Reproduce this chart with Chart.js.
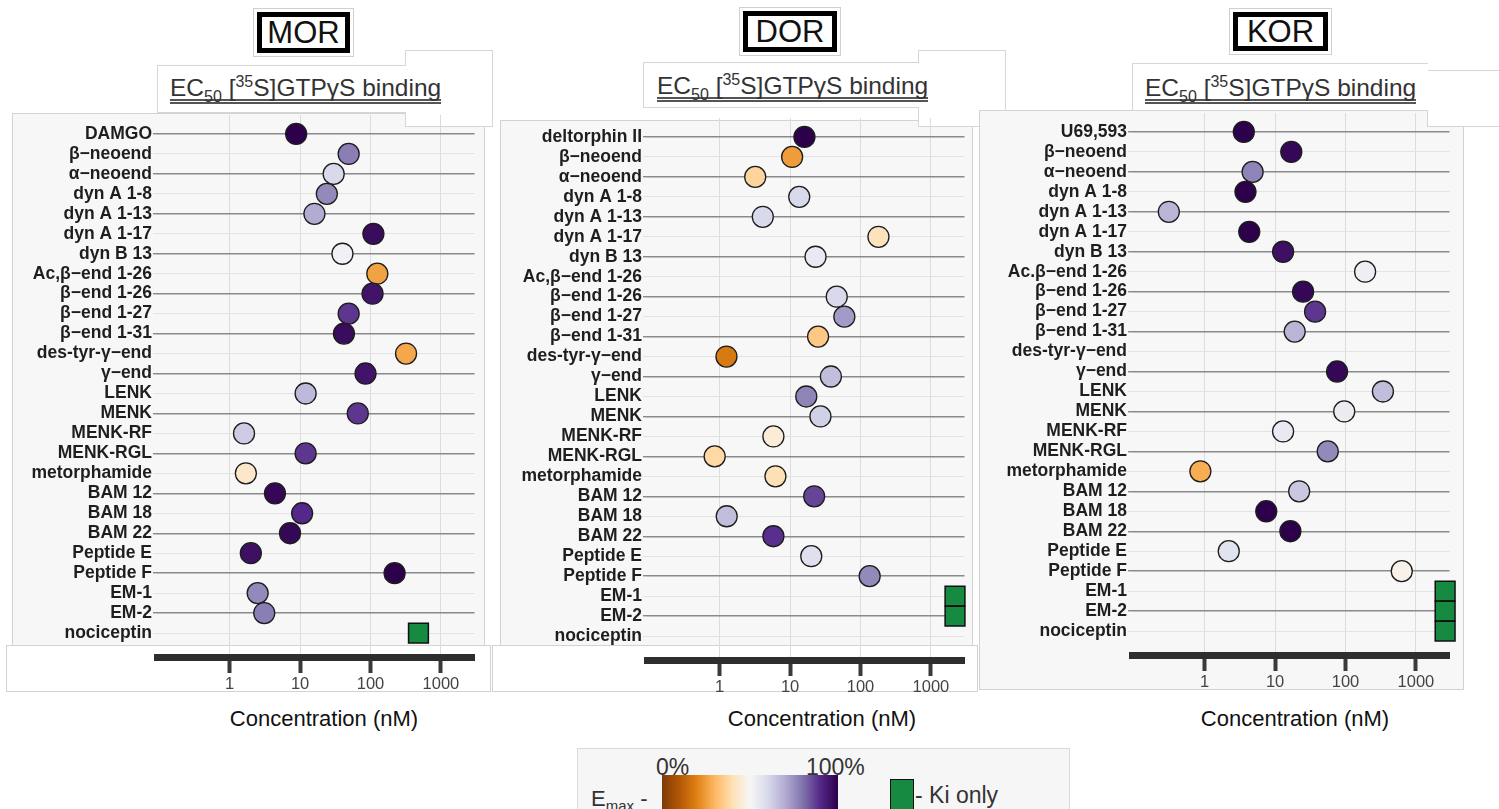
<!DOCTYPE html>
<html>
<head>
<meta charset="utf-8">
<script src="https://cdn.jsdelivr.net/npm/chart.js@4.4.1/dist/chart.umd.min.js"></script>
<style>
  body { margin: 0; width: 1499px; height: 809px; position: relative; overflow: hidden; background: #fff;
         font-family: "Liberation Sans", Arial, sans-serif; }
  .abs { position: absolute; }
  .panel { position: absolute; background: #f8f7f7; border: 1px solid #d2d2d2; box-sizing: border-box; }
  .axisbox { position: absolute; background: #fff; border: 1px solid #d2d2d2; box-sizing: border-box; }
  .rec { position: absolute; border: 5px solid #000; background: #fff; font-size: 31px; color: #111;
         text-align: center; box-sizing: border-box; line-height: 31px; outline: 1px solid #d0d0d0; outline-offset: 3px; }
  .sub { position: absolute; background: #fff; border: 1px solid #d6d6d6; box-sizing: border-box; }
  .subt { position: absolute; font-size: 24.5px; line-height: 22px; color: #333; white-space: nowrap;
          border-bottom: 5px double #555; }
  .subt sub, .subt sup { font-size: 16px; line-height: 0; }
  .conc { position: absolute; width: 300px; text-align: center; font-size: 22px; color: #111; }
  canvas { position: absolute; }
</style>
</head>
<body>

<!-- panel backgrounds -->
<div class="panel" style="left:12px;top:113px;width:473px;height:533px"></div>
<div class="axisbox" style="left:6px;top:645px;width:485px;height:47px"></div>
<div class="panel" style="left:500px;top:120px;width:473px;height:526px"></div>
<div class="axisbox" style="left:492px;top:645px;width:486px;height:47px"></div>

<!-- subtitle boxes -->
<div class="sub" style="left:405px;top:50px;width:88px;height:77px"></div>
<div class="sub" style="left:157px;top:65px;width:249px;height:48px;border-right:none"></div>
<div class="sub" style="left:918px;top:50px;width:88px;height:77px"></div>
<div class="sub" style="left:643px;top:62px;width:276px;height:46px;border-right:none"></div>
<div class="panel" style="left:979px;top:110px;width:485px;height:580px"></div>
<div class="sub" style="left:1427px;top:70px;width:80px;height:57px;border-right:none"></div>
<div class="sub" style="left:1132px;top:63px;width:296px;height:48px;border-right:none"></div>

<div class="rec" style="left:257px;top:12px;width:93px;height:41px">MOR</div>
<div class="rec" style="left:743px;top:11px;width:94px;height:41px">DOR</div>
<div class="rec" style="left:1233px;top:12px;width:95px;height:39px;line-height:29px">KOR</div>

<div class="subt" style="left:170px;top:77px">EC<sub>50</sub> [<sup>35</sup>S]GTPγS binding</div>
<div class="subt" style="left:657px;top:75px">EC<sub>50</sub> [<sup>35</sup>S]GTPγS binding</div>
<div class="subt" style="left:1145px;top:77px">EC<sub>50</sub> [<sup>35</sup>S]GTPγS binding</div>

<canvas id="mor" width="490" height="602" style="left:0px;top:95px"></canvas>
<canvas id="dor" width="490" height="602" style="left:490px;top:98px"></canvas>
<canvas id="kor" width="490" height="602" style="left:975px;top:93px"></canvas>

<div class="conc" style="left:174px;top:706px">Concentration (nM)</div>
<div class="conc" style="left:672px;top:706px">Concentration (nM)</div>
<div class="conc" style="left:1145px;top:706px">Concentration (nM)</div>

<!-- legend -->
<div class="abs" style="left:577px;top:748px;width:491px;height:70px;background:#f6f6f6;border:1px solid #dadada"></div>
<div class="abs" id="cbar" style="left:662px;top:775px;width:176px;height:40px"></div>
<div class="abs" style="left:656px;top:754px;font-size:23px;color:#333">0%</div>
<div class="abs" style="left:806px;top:754px;font-size:23px;color:#333">100%</div>
<div class="abs" style="left:591px;top:786px;font-size:22px;color:#333">E<sub style="font-size:15px">max</sub> -</div>
<div class="abs" style="left:890px;top:779px;width:22px;height:30px;background:#158a40;border:1.5px solid #111"></div>
<div class="abs" style="left:915px;top:782px;font-size:23px;color:#333">- Ki only</div>

<script>
// rows, top to bottom
const morLabels = ["DAMGO", "β−neoend", "α−neoend", "dyn A 1-8", "dyn A 1-13", "dyn A 1-17", "dyn B 13",
  "Ac,β−end 1-26", "β−end 1-26", "β−end 1-27", "β−end 1-31", "des-tyr-γ−end", "γ−end", "LENK", "MENK",
  "MENK-RF", "MENK-RGL", "metorphamide", "BAM 12", "BAM 18", "BAM 22", "Peptide E", "Peptide F",
  "EM-1", "EM-2", "nociceptin"];
const dorLabels = ["deltorphin II"].concat(morLabels.slice(1));
const korLabels = ["U69,593"].concat(morLabels.slice(1, 7), ["Ac.β−end 1-26"], morLabels.slice(8));

// EC50 (nM), null = not measured
const morEc50 = [8.8, 49, 30, 24, 16, 110, 40, 125, 107, 49, 42, 320, 85, 12, 66, 1.6, 12, 1.7, 4.4, 10.7, 7.2, 2.0, 220, 2.5, 3.1, null];
const dorEc50 = [16, 10.7, 3.2, 13.5, 4.1, 180, 23, null, 46, 59, 25, 1.25, 38, 17, 27, 5.8, 0.85, 6.2, 22, 1.26, 5.8, 20, 135, null, null, null];
const korEc50 = [3.6, 17, 4.8, 3.8, 0.31, 4.3, 13, 190, 25, 37, 19, null, 76, 340, 96, 13, 56, 0.87, 22, 7.5, 16.5, 2.2, 630, null, null, null];

// Emax (%)
const morEmax = [100, 78, 60, 76, 70, 97, 52, 26, 95, 88, 97, 27, 95, 67, 88, 63, 88, 43, 98, 90, 98, 96, 100, 76, 78, null];
const dorEmax = [100, 25, 37, 60, 60, 41, 55, null, 60, 73, 34, 18, 66, 77, 62, 45, 38, 40, 86, 66, 89, 58, 76, null, null, null];
const korEmax = [100, 98, 77, 100, 68, 100, 96, 53, 98, 88, 68, null, 98, 66, 54, 55, 76, 28, 64, 100, 100, 57, 48, null, null, null];

// Ki only (drawn at right edge)
const morKi = [null, null, null, null, null, null, null, null, null, null, null, null, null, null, null, null, null, null, null, null, null, null, null, null, null, 480];
const dorKi = [null, null, null, null, null, null, null, null, null, null, null, null, null, null, null, null, null, null, null, null, null, null, null, 2200, 2200, null];
const korKi = [null, null, null, null, null, null, null, null, null, null, null, null, null, null, null, null, null, null, null, null, null, null, null, 2600, 2600, 2600];

const xTicks = [1, 10, 100, 1000];

// PuOr colour scale, 0% -> 100%
const stops = ["#7f3b08", "#b35806", "#e08214", "#fdb863", "#fee0b6", "#f7f7f7", "#d8daeb", "#b2abd2", "#8073ac", "#542788", "#2d004b"];
function hex(c) { return [1, 3, 5].map(i => parseInt(c.substr(i, 2), 16)); }
function emaxColor(p) {
  let t = Math.max(0, Math.min(1, p / 100)) * (stops.length - 1);
  let i = Math.min(Math.floor(t), stops.length - 2);
  let f = t - i;
  let a = hex(stops[i]), b = hex(stops[i + 1]);
  let c = a.map((v, k) => Math.round(v + (b[k] - v) * f));
  return `rgb(${c[0]},${c[1]},${c[2]})`;
}
document.getElementById("cbar").style.background = "linear-gradient(to right," + stops.join(",") + ")";

Chart.defaults.font.family = "'Liberation Sans', Arial, sans-serif";

function makePanel(id, labels, ec50, emax, ki) {
  let pts = [], cols = [], kiPts = [];
  labels.forEach((l, i) => {
    if (ec50[i] != null) { pts.push({ x: ec50[i], y: i }); cols.push(emaxColor(emax[i])); }
    if (ki[i] != null) kiPts.push({ x: ki[i], y: i });
  });

  new Chart(document.getElementById(id), {
    type: "scatter",
    data: {
      datasets: [
        { data: pts, backgroundColor: cols, borderColor: "#1c1c1c", borderWidth: 1.3,
          pointRadius: 10.5, pointHoverRadius: 10.5, clip: false },
        { data: kiPts, pointStyle: "rect", backgroundColor: "#158a40", borderColor: "#111",
          borderWidth: 1.5, pointRadius: 14, pointHoverRadius: 14, clip: false }
      ]
    },
    options: {
      responsive: false,
      animation: false,
      layout: { padding: { top: 20, right: 13, left: 0, bottom: 0 } },
      plugins: { legend: { display: false }, tooltip: { enabled: false } },
      scales: {
        x: {
          type: "logarithmic", position: "bottom", min: 0.093, max: 3000,
          afterBuildTicks: (s) => { s.ticks = xTicks.map(v => ({ value: v })); },
          afterFit: (s) => { s.height = 40; },
          ticks: { callback: (v) => String(v), color: "#444", font: { size: 16.5 }, padding: 2,
                   autoSkip: false, maxRotation: 0 },
          grid: { color: "#dcdcdc", lineWidth: 1, tickLength: 16, tickWidth: 4, tickColor: "#3a3a3a" },
          border: { display: true, color: "#2e2e2e", width: 7 }
        },
        y: {
          type: "linear", reverse: true, min: -0.95, max: 26.2,
          afterBuildTicks: (s) => { s.ticks = labels.map((_, i) => ({ value: i })); },
          afterFit: (s) => { s.width = 157; },
          ticks: { callback: (v) => labels[v], color: "#1e1e1e", padding: 1, autoSkip: false,
                   font: { size: 17.5, weight: "bold" } },
          grid: {
            color: (c) => (c.index % 2 === 0 ? "#8a8a8a" : "#e3e3e3"),
            lineWidth: (c) => (c.index % 2 === 0 ? 1.4 : 1),
            tickColor: (c) => (c.index % 2 === 0 ? "#8a8a8a" : "#e3e3e3"),
            tickLength: 4
          },
          border: { display: false }
        }
      }
    }
  });
}

makePanel("mor", morLabels, morEc50, morEmax, morKi);
makePanel("dor", dorLabels, dorEc50, dorEmax, dorKi);
makePanel("kor", korLabels, korEc50, korEmax, korKi);
</script>
</body>
</html>
